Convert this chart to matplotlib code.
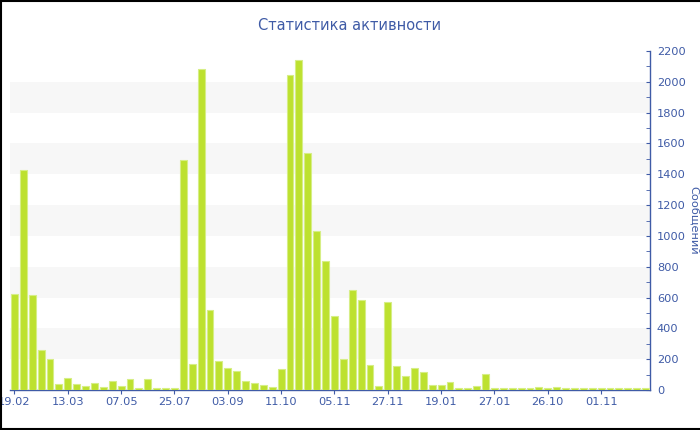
import matplotlib
matplotlib.use("Agg")
import matplotlib.pyplot as plt
from matplotlib.lines import Line2D
from matplotlib.ticker import MultipleLocator
import numpy as np

title = "Статистика активности"
ylabel = "Сообщений"
tick_labels = ["19.02", "13.03", "07.05", "25.07", "03.09", "11.10",
               "05.11", "27.11", "19.01", "27.01", "26.10", "01.11"]
messages = [625, 1425, 615, 260, 200, 42, 80, 40, 24, 43,
            22, 56, 24, 74, 13, 74, 11, 15, 13, 1495,
            166, 2080, 519, 186, 145, 123, 56, 45, 35, 22,
            134, 2045, 2140, 1535, 1035, 839, 480, 201, 646, 584,
            160, 28, 569, 156, 93, 140, 115, 35, 30, 54,
            12, 10, 25, 107, 12, 12, 12, 12, 12, 18,
            12, 18, 16, 16, 16, 16, 16, 14, 14, 14,
            12, 12]

blue = "#3f5ba6"
bar_col = "#bde12f"
bar_edge = "#d6ee86"

fig = plt.figure(figsize=(7, 4.3), dpi=100)
ax = fig.add_axes([10 / 700, 40 / 430, 640 / 700, 339 / 430])

x = np.arange(len(messages))
ax.bar(x, messages, width=0.78, color=bar_col, edgecolor=bar_edge,
       linewidth=0.8, zorder=3)

for lo in range(200, 2200, 400):
    ax.axhspan(lo, lo + 200, color="#f7f7f7", zorder=0, lw=0)

ax.set_xlim(-0.5, len(messages) - 0.5)
ax.set_ylim(0, 2200)
ax.set_xticks(x[::6])
ax.set_xticklabels(tick_labels)

ax.yaxis.tick_right()
ax.yaxis.set_major_locator(MultipleLocator(200))
ax.yaxis.set_minor_locator(MultipleLocator(100))

for s in ["left", "top"]:
    ax.spines[s].set_visible(False)
for s in ["right", "bottom"]:
    ax.spines[s].set_color(blue)
    ax.spines[s].set_linewidth(1.0)

ax.tick_params(axis="x", colors=blue, labelsize=8.2, length=3, pad=2)
ax.tick_params(axis="y", which="major", colors=blue, labelsize=8.2,
               direction="in", length=3, pad=5)
ax.tick_params(axis="y", which="minor", colors=blue, direction="in", length=3)

fig.text(0.5, 1 - 25 / 430, title, ha="center", va="center",
         color=blue, fontsize=10.5)
fig.text(689 / 700, 0.487, ylabel, rotation=270, ha="left", va="center",
         color=blue, fontsize=8.2)

# frame around the image (right side is cut off in the original)
for xs, ys in [([0.5 / 700, 0.5 / 700], [0, 1]),
               ([0, 1], [1 - 0.5 / 430, 1 - 0.5 / 430]),
               ([0, 1], [1.5 / 430, 1.5 / 430])]:
    fig.add_artist(Line2D(xs, ys, color="black", lw=1.5,
                          transform=fig.transFigure))

fig.savefig("out.png", dpi=100)
